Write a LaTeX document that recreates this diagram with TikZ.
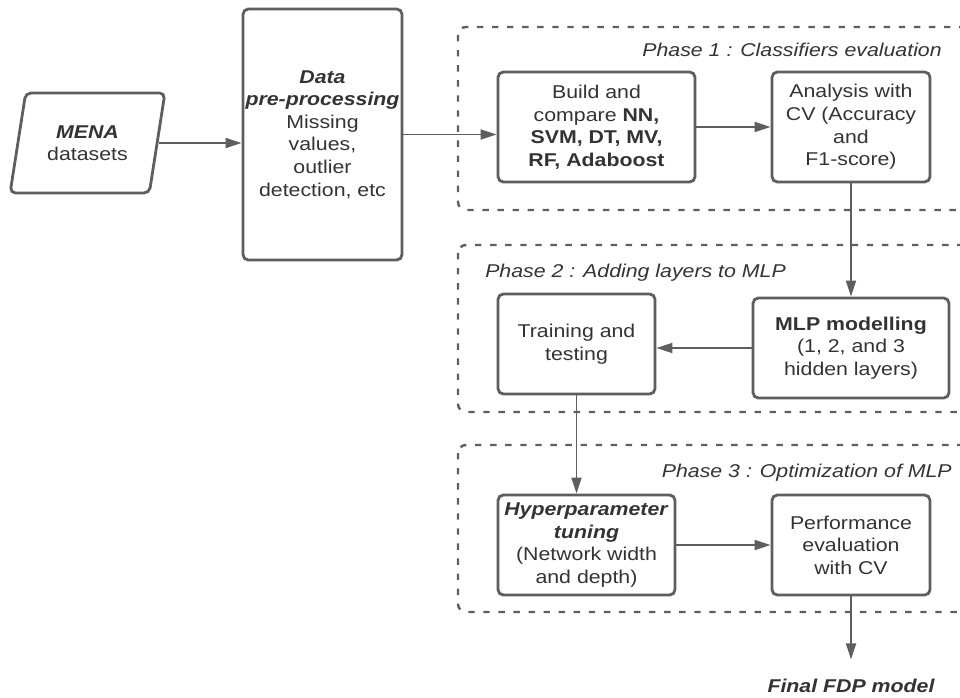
\documentclass[tikz,border=0pt]{standalone}
\usepackage{fontspec}
\setmainfont[FakeStretch=1.15]{Liberation Sans}
\usetikzlibrary{arrows.meta,shapes.geometric}
\definecolor{ln}{HTML}{5E5E5E}
\definecolor{tx}{HTML}{333333}
\begin{document}
\begin{tikzpicture}[x=0.75pt,y=-0.75pt,
  every node/.style={font=\fontsize{13.9}{16.9}\selectfont, text=tx},
  box/.style={draw=ln, line width=2.1pt, rounded corners=4pt, align=center, inner sep=0pt},
  phasebox/.style={draw=ln, line width=1.8pt, dash pattern=on 4.8pt off 6.5pt, rounded corners=6pt},
  conn/.style={draw=ln, line width=1.4pt, -{Triangle[length=12pt,width=7.5pt]}},
  plabel/.style={font=\fontsize{13.9}{16.9}\selectfont\itshape, inner sep=0pt}
]
\useasboundingbox (0,0) rectangle (960,698);
\begin{scope}
\clip (0,0) rectangle (960,698);
\draw[phasebox] (458,27) rectangle (990,210);
\draw[phasebox] (458,245) rectangle (990,412);
\draw[phasebox] (458,445) rectangle (990,612);
\end{scope}

\node[plabel, anchor=east] (p1) at (942,50) {Phase 1 : Classifiers evaluation};
\node[plabel, anchor=west] (p2) at (485,273) {Phase 2 : Adding layers to MLP};
\node[plabel, anchor=east] (p3) at (952,473) {Phase 3 : Optimization of MLP};

\node[draw=ln, line width=2.1pt, rounded corners=4pt, trapezium, trapezium stretches=true,
      trapezium left angle=74, trapezium right angle=106,
      minimum width=116.25pt, minimum height=75pt, align=center, inner sep=0pt]
  (mena) at (87.5,143) {\textbf{\textit{MENA}}\\datasets};

\node[box, minimum width=119.25pt, minimum height=188.25pt] (data) at (322.5,134.5)
  {\textbf{\textit{Data}}\\\textbf{\textit{pre-processing}}\\Missing\\values,\\outlier\\detection, etc};

\node[box, minimum width=147.75pt, minimum height=82.5pt] (build) at (596.5,127)
  {Build and\\compare \textbf{NN,}\\\textbf{SVM, DT, MV,}\\\textbf{RF, Adaboost}};
\node[box, minimum width=118.5pt, minimum height=82.5pt] (analysis) at (851,127)
  {Analysis with\\CV (Accuracy\\and\\F1-score)};

\node[box, minimum width=117.75pt, minimum height=75pt] (training) at (576.5,344)
  {Training and\\testing};
\node[box, minimum width=147pt, minimum height=75pt] (mlp) at (851,348)
  {\textbf{MLP modelling}\\(1, 2, and 3\\hidden layers)};

\node[box, minimum width=132.75pt, minimum height=75pt] (hyper) at (586.5,545)
  {\textbf{\textit{Hyperparameter}}\\\textbf{\textit{tuning}}\\(Network width\\and depth)};
\node[box, minimum width=118.5pt, minimum height=75pt] (perf) at (851,545)
  {Performance\\evaluation\\with CV};

\node[inner sep=0pt, font=\fontsize{13.9}{16.9}\selectfont\bfseries\itshape] (final) at (851,686) {Final FDP model};

\draw[conn] (mena.east) -- (data.west |- mena.east);
\draw[conn] (data.east) -- (build.west |- data.east);
\draw[conn] (build.east) -- (analysis.west);
\draw[conn] (analysis.south) -- (mlp.north);
\draw[conn] (mlp.west) -- (training.east |- mlp.west);
\draw[conn] (training.south) -- (training.south |- hyper.north);
\draw[conn] (hyper.east) -- (perf.west);
\draw[conn] (perf.south) -- ([yshift=14.6pt]final.north);
\end{tikzpicture}
\end{document}
